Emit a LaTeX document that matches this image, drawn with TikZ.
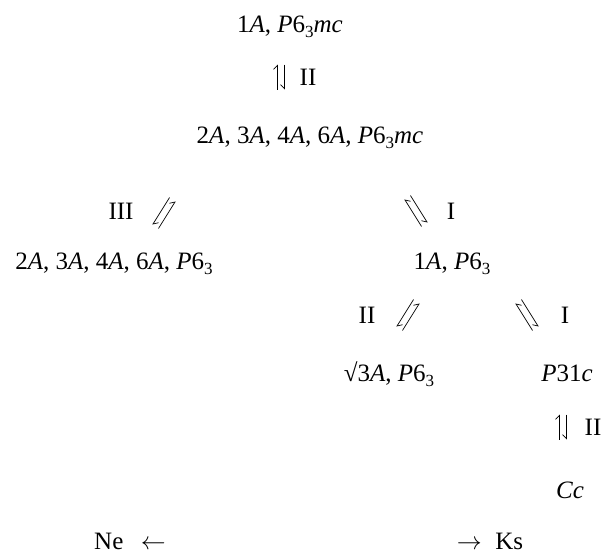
\documentclass[tikz,border=0pt]{standalone}
\usepackage{fontspec}
\setmainfont{Liberation Serif}
\usetikzlibrary{arrows.meta}
\tikzset{
  sp/.style={font=\fontsize{25}{30}\selectfont, inner sep=0pt, anchor=base},
  tag/.style={font=\fontsize{25}{30}\selectfont, inner sep=0pt},
  harp/.style={line width=0.7pt, -{Straight Barb[harpoon, length=4pt, width=8pt]}},
  harpsw/.style={line width=0.7pt, -{Straight Barb[harpoon, swap, length=4pt, width=8pt]}},
}
\newcommand{\lo}[1]{\raisebox{-5pt}{\fontsize{17}{17}\selectfont #1}}
% centre, direction, half length, offset, tip going out, tip coming back
\newcommand{\eqpair}[6]{%
  \begin{scope}[shift={(#1)}, rotate=#2]
    \draw[#5] ({-#3*1pt},{#4*1pt}) -- ({#3*1pt},{#4*1pt});
    \draw[#6] ({#3*1pt},{-1pt*(#4)}) -- ({-#3*1pt},{-1pt*(#4)});
  \end{scope}}

\begin{document}
\begin{tikzpicture}[x=1pt,y=-1pt]
  \useasboundingbox (0,0) rectangle (616,555);
  % species
  \node[sp] (top) at (290,32) {1\textit{A}, \textit{P}6\lo{3}\textit{mc}};
  \node[sp] (mid) at (310,143) {2\textit{A}, 3\textit{A}, 4\textit{A}, 6\textit{A}, \textit{P}6\lo{3}\textit{mc}};
  \node[sp] (left) at (114,269) {2\textit{A}, 3\textit{A}, 4\textit{A}, 6\textit{A}, \textit{P}6\lo{3}};
  \node[sp] (right) at (452,269) {1\textit{A}, \textit{P}6\lo{3}};
  \node[sp] (root) at (389,381) {√3\textit{A}, \textit{P}6\lo{3}};
  \node[sp] (pc) at (567,381) {\textit{P}31\textit{c}};
  \node[sp] (cc) at (570,498) {\textit{Cc}};
  \node[sp] (ne) at (130,549) {Ne\hspace{0.7em}$\leftarrow$};
  \node[sp] (ks) at (490,549) {$\rightarrow$\hspace{0.55em}Ks};
  % equilibria
  \coordinate (e1) at (281,77);
  \coordinate (e2) at (164,213);
  \coordinate (e3) at (416,211);
  \coordinate (e4) at (408,315);
  \coordinate (e5) at (527,315);
  \coordinate (e6) at (563,427);
  \eqpair{e1}{90}{12.5}{3.5}{harp}{harpsw}
  \eqpair{e2}{58}{16}{-3.5}{harp}{harp}
  \eqpair{e3}{122}{16}{3.5}{harpsw}{harpsw}
  \eqpair{e4}{58}{16}{-3.5}{harp}{harp}
  \eqpair{e5}{122}{16}{3.5}{harpsw}{harpsw}
  \eqpair{e6}{90}{12.5}{3.5}{harp}{harpsw}
  \node[tag] (t1) at (308,77) {II};
  \node[tag] (t2) at (121,211) {III};
  \node[tag] (t3) at (451,211) {I};
  \node[tag] (t4) at (367,315) {II};
  \node[tag] (t5) at (565,315) {I};
  \node[tag] (t6) at (593,427) {II};
\end{tikzpicture}
\end{document}
